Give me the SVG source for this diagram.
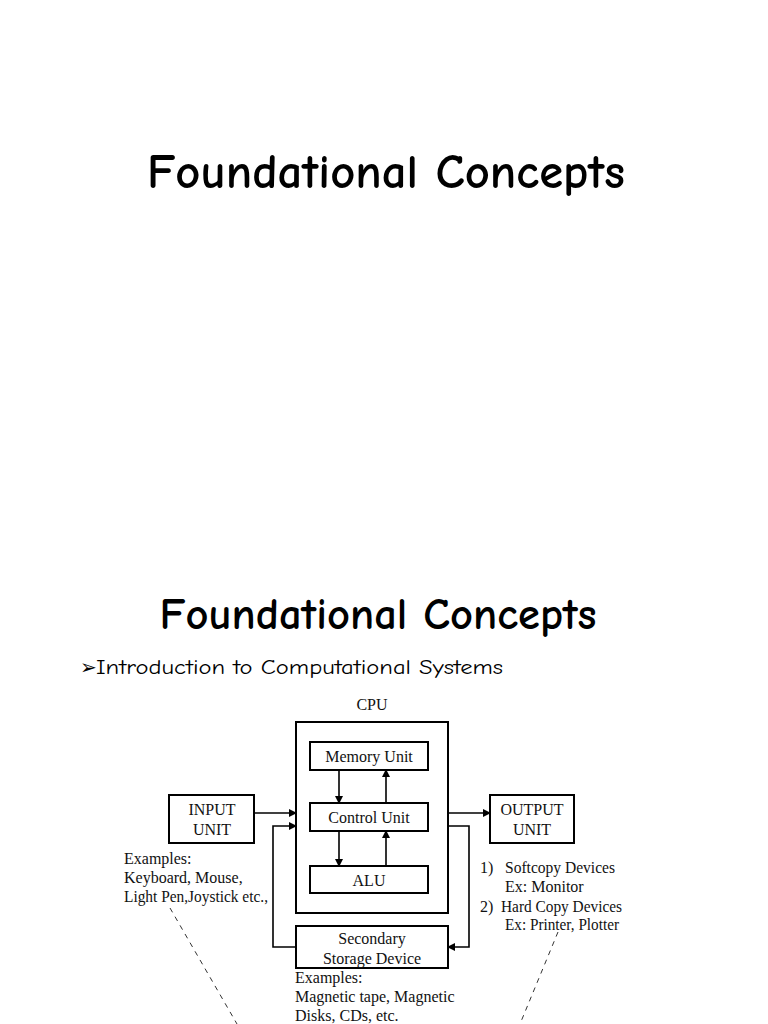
<svg xmlns="http://www.w3.org/2000/svg" width="768" height="1024" viewBox="0 0 768 1024">
<style>
.title{font-family:"Comic Neue","DejaVu Sans","Noto Sans",sans-serif;fill:#000;font-weight:700}
.sub{font-family:"Comic Neue","DejaVu Sans","Noto Sans",sans-serif;fill:#000;font-weight:400}
.t{font-family:"Liberation Serif","Times New Roman",serif;font-size:16px;fill:#111}
.c{text-anchor:middle}
.box{fill:#fff;stroke:#000;stroke-width:2}
.ln{fill:none;stroke:#000;stroke-width:1.6}
.dash{fill:none;stroke:#333;stroke-width:1;stroke-dasharray:5 5}
</style>
<defs>
<marker id="ah" markerWidth="8" markerHeight="8" refX="7" refY="4" orient="auto" markerUnits="userSpaceOnUse">
<path d="M0,0 L8,4 L0,8 z" fill="#000"/>
</marker>
</defs>
<rect width="768" height="1024" fill="#fff"/>
<text class="title" x="386" y="188" font-size="48" text-anchor="middle" textLength="478" lengthAdjust="spacingAndGlyphs">Foundational Concepts</text>
<text class="title" x="378" y="629" font-size="44" text-anchor="middle" textLength="437" lengthAdjust="spacingAndGlyphs">Foundational Concepts</text>
<text class="sub" x="80" y="674" font-size="21"><tspan font-family="DejaVu Sans, sans-serif" font-size="20">➢</tspan><tspan x="96" textLength="407" lengthAdjust="spacingAndGlyphs">Introduction to Computational Systems</tspan></text>

<g id="cpu">
<text class="t c" x="372" y="710">CPU</text>
<rect class="box" x="296" y="722" width="152" height="191"/>
</g>
<g id="memory">
<rect class="box" x="310" y="742" width="118" height="28"/>
<text class="t c" x="369" y="762">Memory Unit</text>
</g>
<g id="control">
<rect class="box" x="310" y="803" width="118" height="28"/>
<text class="t c" x="369" y="823">Control Unit</text>
</g>
<g id="alu">
<rect class="box" x="310" y="866" width="118" height="27"/>
<text class="t c" x="369" y="886">ALU</text>
</g>
<g id="input">
<rect class="box" x="169" y="795" width="85" height="48"/>
<text class="t c" x="212" y="815">INPUT</text>
<text class="t c" x="212" y="835">UNIT</text>
<text class="t" x="124" y="864">Examples:</text>
<text class="t" x="124" y="883">Keyboard, Mouse,</text>
<text class="t" x="124" y="902" textLength="144" lengthAdjust="spacingAndGlyphs">Light Pen,Joystick etc.,</text>
</g>
<g id="output">
<rect class="box" x="490" y="795" width="84" height="48"/>
<text class="t c" x="532" y="815">OUTPUT</text>
<text class="t c" x="532" y="835">UNIT</text>
<text class="t" x="480" y="873">1)</text>
<text class="t" x="505" y="873" textLength="110" lengthAdjust="spacingAndGlyphs">Softcopy Devices</text>
<text class="t" x="505" y="892">Ex: Monitor</text>
<text class="t" x="480" y="912">2)</text>
<text class="t" x="501" y="912" textLength="121" lengthAdjust="spacingAndGlyphs">Hard Copy Devices</text>
<text class="t" x="505" y="930" textLength="114" lengthAdjust="spacingAndGlyphs">Ex: Printer, Plotter</text>
</g>
<g id="storage">
<rect class="box" x="296" y="926" width="152" height="42"/>
<text class="t c" x="372" y="944">Secondary</text>
<text class="t c" x="372" y="964">Storage Device</text>
<text class="t" x="295" y="983">Examples:</text>
<text class="t" x="295" y="1002">Magnetic tape, Magnetic</text>
<text class="t" x="295" y="1021">Disks, CDs, etc.</text>
</g>
<g id="connectors">
<line class="ln" x1="339" y1="770" x2="339" y2="803" marker-end="url(#ah)"/>
<line class="ln" x1="386" y1="803" x2="386" y2="770" marker-end="url(#ah)"/>
<line class="ln" x1="339" y1="831" x2="339" y2="866" marker-end="url(#ah)"/>
<line class="ln" x1="386" y1="866" x2="386" y2="831" marker-end="url(#ah)"/>
<line class="ln" x1="254" y1="813" x2="296" y2="813" marker-end="url(#ah)"/>
<polyline class="ln" points="296,947 273,947 273,826 296,826" marker-end="url(#ah)"/>
<line class="ln" x1="448" y1="813" x2="490" y2="813" marker-end="url(#ah)"/>
<polyline class="ln" points="448,826 469,826 469,947 448,947" marker-end="url(#ah)"/>
<line class="dash" x1="170" y1="908" x2="237" y2="1024"/>
<line class="dash" x1="558" y1="932" x2="520" y2="1024"/>
</g>
</svg>
